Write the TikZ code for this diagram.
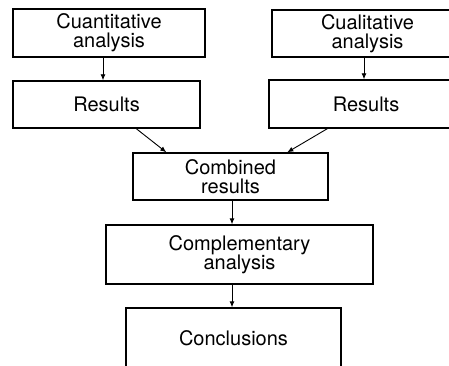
\documentclass[tikz,border=0pt]{standalone}
\usepackage{fontspec}
\setmainfont{TeX Gyre Heros}
\usetikzlibrary{arrows.meta}
\begin{document}
\begin{tikzpicture}[x=1pt,y=1pt,
  box/.style={draw, line width=1.4pt, inner sep=0pt, align=center,
    font=\fontsize{20}{19}\selectfont},
  arr/.style={line width=0.9pt, -{Latex[length=6pt,width=5pt]}}]
\useasboundingbox (0,0) rectangle (449,-366);
\begin{scope}
\clip (0,0) rectangle (449,-366);
\node[box, minimum width=192pt, minimum height=48pt] (qa) at (109,-33) {Cuantitative\\analysis};
\node[box, minimum width=191pt, minimum height=47pt] (la) at (367.5,-33.5) {Cualitative\\analysis};
\node[box, minimum width=187pt, minimum height=47pt] (qr) at (106.5,-104.5) {Results};
\node[box, minimum width=194pt, minimum height=48pt] (lr) at (366,-104) {Results};
\node[box, minimum width=195pt, minimum height=47pt] (cr) at (230.5,-176.5) {Combined\\results};
\node[box, minimum width=267pt, minimum height=59pt] (ca) at (239.5,-254.5) {Complementary\\analysis};
\node[box, minimum width=215pt, minimum height=60pt] (cc) at (233.5,-338) {Conclusions};
\end{scope}
\draw[arr] ([xshift=-6pt]qa.south) -- ([xshift=-3.5pt]qr.north);
\draw[arr] ([xshift=-3.5pt]la.south) -- ([xshift=-2pt]lr.north);
\draw[arr] ([xshift=124pt]qr.south west) -- ([xshift=34pt]cr.north west);
\draw[arr] ([xshift=59pt]lr.south west) -- ([xshift=155pt]cr.north west);
\draw[arr] ([xshift=1.5pt]cr.south) -- ([xshift=-7.5pt]ca.north);
\draw[arr] ([xshift=-7.5pt]ca.south) -- ([xshift=-1.5pt]cc.north);
\end{tikzpicture}
\end{document}
